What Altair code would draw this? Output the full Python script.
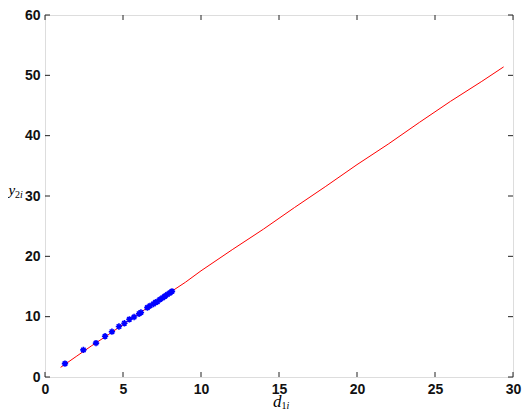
import altair as alt
import pandas as pd

# Red fitted line (d1i, y2i)
line_x = [1.0, 2.0, 3.0, 4.0, 5.0, 6.0, 7.0, 8.0, 9.0, 10.0, 12.0, 14.0, 16.0, 18.0, 20.0, 22.0, 24.0, 26.0, 28.0, 29.4]
line_y = [1.6, 3.4, 5.2, 6.9, 8.7, 10.5, 12.2, 14.0, 15.7, 17.6, 21.1, 24.5, 28.1, 31.6, 35.2, 38.6, 42.2, 45.7, 49.0, 51.4]

# Blue observed points
pts_x = [1.28, 2.46, 3.27, 3.85, 4.29, 4.74, 5.09, 5.41, 5.71, 6.03, 6.15, 6.56, 6.73, 6.95, 7.09, 7.2, 7.37, 7.54, 7.69, 7.84, 8.01, 8.14]
pts_y = [2.22, 4.49, 5.62, 6.75, 7.51, 8.37, 8.91, 9.56, 9.94, 10.48, 10.7, 11.5, 11.8, 12.1, 12.37, 12.48, 12.86, 13.13, 13.4, 13.67, 13.94, 14.2]

x_ticks = [0, 5, 10, 15, 20, 25, 30]
y_ticks = [0, 10, 20, 30, 40, 50, 60]

W, H = 468, 362
AX = "#222222"

line_df = pd.DataFrame({"x": line_x, "y": line_y})
pts_df = pd.DataFrame({"x": pts_x, "y": pts_y})
xt_df = pd.DataFrame({"v": x_ticks})
yt_df = pd.DataFrame({"v": y_ticks})

xscale = alt.Scale(domain=[0, 30], nice=False, zero=False)
yscale = alt.Scale(domain=[0, 60], nice=False, zero=False)

common_axis = dict(title=None, grid=False, ticks=False, domain=False,
                   labelFontSize=14, labelFont="Liberation Sans", labelFontWeight="bold",
                   labelColor="#111111", labelPadding=5, labelFlush=False)
xaxis = alt.Axis(values=x_ticks, **common_axis)
yaxis = alt.Axis(values=y_ticks, **common_axis)

line = alt.Chart(line_df).mark_line(color="#ff0000", strokeWidth=1).encode(
    x=alt.X("x:Q", scale=xscale, axis=xaxis),
    y=alt.Y("y:Q", scale=yscale, axis=yaxis),
)

asterisk = "M-1,0L1,0M0,-1L0,1M-0.7,-0.7L0.7,0.7M-0.7,0.7L0.7,-0.7"
pts = alt.Chart(pts_df).mark_point(shape=asterisk, filled=False, color="#0000ff",
                                   strokeWidth=1.6, size=40, opacity=1).encode(
    x=alt.X("x:Q", scale=xscale),
    y=alt.Y("y:Q", scale=yscale),
)

tick_style = dict(color=AX, strokeWidth=1)
xt_bot = alt.Chart(xt_df).mark_rule(**tick_style).encode(
    x=alt.X("v:Q", scale=xscale), y=alt.value(H), y2=alt.value(H - 5))
xt_top = alt.Chart(xt_df).mark_rule(**tick_style).encode(
    x=alt.X("v:Q", scale=xscale), y=alt.value(0), y2=alt.value(5))
yt_left = alt.Chart(yt_df).mark_rule(**tick_style).encode(
    y=alt.Y("v:Q", scale=yscale), x=alt.value(0), x2=alt.value(5))
yt_right = alt.Chart(yt_df).mark_rule(**tick_style).encode(
    y=alt.Y("v:Q", scale=yscale), x=alt.value(W), x2=alt.value(W - 5))


def label(txt, px, py, size, italic):
    return alt.Chart(pd.DataFrame({"t": [txt]})).mark_text(
        font="Liberation Serif", fontSize=size, fontStyle="italic" if italic else "normal",
        align="left", baseline="alphabetic", color="#000000"
    ).encode(text="t:N", x=alt.value(px), y=alt.value(py))


titles = [
    label("d", 228, 392, 17, True),
    label("1", 236.5, 394, 10, False),
    label("i", 241.5, 394, 10, True),
    label("y", -36.5, 180, 15, True),
    label("2", -30, 183, 10, False),
    label("i", -25, 183, 10, True),
]

chart = alt.layer(line, pts, xt_bot, xt_top, yt_left, yt_right, *titles).properties(
    width=W, height=H,
    autosize=alt.AutoSizeParams(type="none"),
    padding={"left": 37, "top": 7, "right": 9, "bottom": 35},
).configure_view(stroke=AX, strokeWidth=1).configure(background="#ffffff")

chart.save("out.html", embed_options={"renderer": "svg", "actions": False})
